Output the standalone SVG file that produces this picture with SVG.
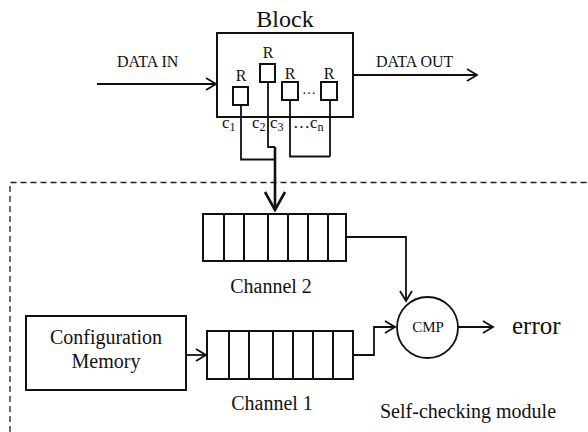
<svg xmlns="http://www.w3.org/2000/svg" width="588" height="432" viewBox="0 0 588 432">
<style>
text{font-family:"Liberation Serif","Times New Roman",serif;fill:#111}
.box{fill:#fff;stroke:#111;stroke-width:2}
.ln{fill:none;stroke:#111;stroke-width:1.8}
.thick{fill:none;stroke:#111;stroke-width:2.6}
.cell{stroke:#111;stroke-width:2}
</style>
<defs>
<marker id="ah" viewBox="0 0 14 14" refX="12" refY="7" markerWidth="14" markerHeight="14" markerUnits="userSpaceOnUse" orient="auto">
<path d="M2,1 L12,7 L2,13" fill="none" stroke="#111" stroke-width="1.8"/>
</marker>
<marker id="ahb" viewBox="0 0 22 24" refX="20" refY="12" markerWidth="22" markerHeight="24" markerUnits="userSpaceOnUse" orient="auto">
<path d="M2,2 L20,12 L2,22" fill="none" stroke="#111" stroke-width="2.6"/>
</marker>
</defs>
<rect width="588" height="432" fill="#fff"/>

<!-- self-checking module boundary -->
<g id="module">
<path d="M10,432 V182.5 H588" fill="none" stroke="#222" stroke-width="1.3" stroke-dasharray="6,4"/>
<text x="380" y="418" font-size="20">Self-checking module</text>
</g>

<g id="block">
<text x="285" y="27" font-size="24" text-anchor="middle">Block</text>
<rect class="box" x="217" y="33" width="136" height="84"/>
</g>

<g id="reg1">
<rect class="box" x="233" y="87" width="15" height="18"/>
<text x="241" y="81" font-size="16" text-anchor="middle">R</text>
</g>
<g id="reg2">
<rect class="box" x="260" y="64" width="15" height="18"/>
<text x="268" y="58" font-size="16" text-anchor="middle">R</text>
</g>
<g id="reg3">
<rect class="box" x="282" y="82" width="16" height="18"/>
<text x="290" y="79" font-size="16" text-anchor="middle">R</text>
</g>
<text x="309" y="94" font-size="14" text-anchor="middle">…</text>
<g id="regn">
<rect class="box" x="321" y="82" width="16" height="18"/>
<text x="329" y="79" font-size="16" text-anchor="middle">R</text>
</g>

<g id="clabels" font-size="17">
<text x="222" y="128">c<tspan font-size="12" dy="3">1</tspan></text>
<text x="252" y="128">c<tspan font-size="12" dy="3">2</tspan></text>
<text x="270" y="128">c<tspan font-size="12" dy="3">3</tspan></text>
<text x="293" y="128">…c<tspan font-size="12" dy="3">n</tspan></text>
</g>

<g id="channel2">
<rect class="box" x="203" y="214" width="143" height="47"/>
<path class="cell" d="M224,214V261M244,214V261M268,214V261M288,214V261M308,214V261M328,214V261"/>
<text x="271" y="293" font-size="20" text-anchor="middle">Channel 2</text>
</g>

<g id="channel1">
<rect class="box" x="207" y="331" width="146" height="48"/>
<path class="cell" d="M229,331V379M249,331V379M273,331V379M293,331V379M313,331V379M333,331V379"/>
<text x="272" y="410" font-size="20" text-anchor="middle">Channel 1</text>
</g>

<g id="config">
<rect class="box" x="26" y="316" width="160" height="74"/>
<text x="106" y="344" font-size="20" text-anchor="middle">Configuration</text>
<text x="106" y="368" font-size="20" text-anchor="middle">Memory</text>
</g>

<g id="cmp">
<circle cx="427.5" cy="327.5" r="30.5" fill="#fff" stroke="#111" stroke-width="1.8"/>
<text x="428" y="332" font-size="15" text-anchor="middle">CMP</text>
</g>

<g id="error">
<text x="512" y="334" font-size="25">error</text>
</g>

<g id="connectors">
<text x="117" y="67" font-size="16">DATA IN</text>
<path class="ln" d="M97,84 H216" marker-end="url(#ah)"/>
<text x="376" y="67" font-size="16">DATA OUT</text>
<path class="ln" d="M353,75 H477" marker-end="url(#ah)"/>
<path class="ln" d="M241,105 V159.5 H275"/>
<path class="ln" d="M268,82 V147 H275"/>
<path class="ln" d="M290,100 V156.5 H330 M330,100 V156.5"/>
<path class="thick" d="M275,147 V210" marker-end="url(#ahb)"/>
<path class="ln" d="M346,237 H406 V301" marker-end="url(#ah)"/>
<path class="ln" d="M186,355 H206" marker-end="url(#ah)"/>
<path class="ln" d="M353,355 H374 V327 H395" marker-end="url(#ah)"/>
<path class="ln" d="M458,327 H493" marker-end="url(#ah)"/>
</g>
</svg>
